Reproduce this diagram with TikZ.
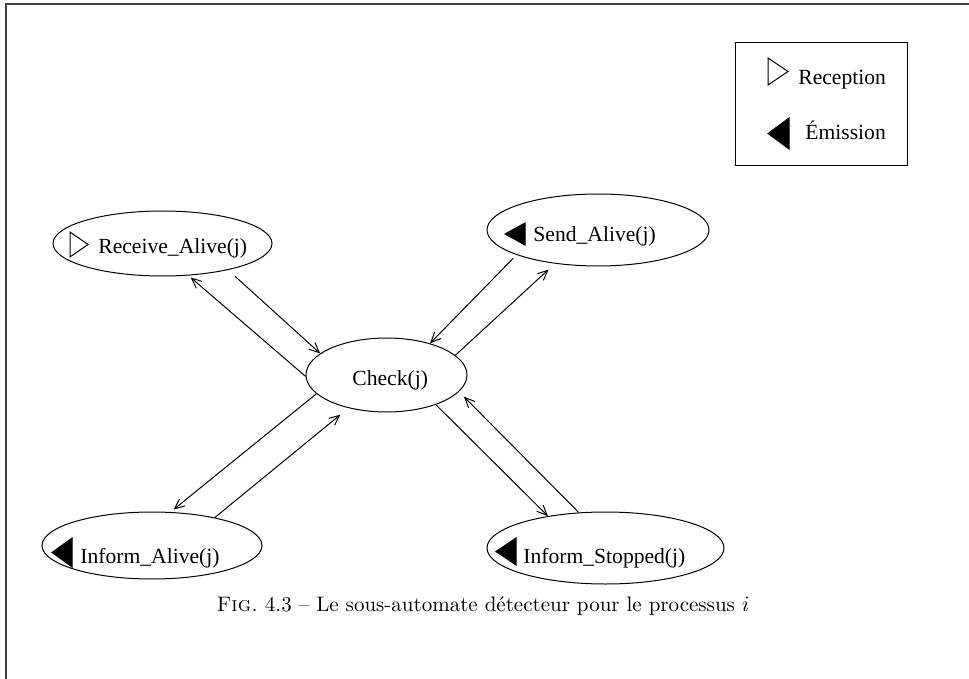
\documentclass[tikz,border=0pt]{standalone}
\usepackage{fontspec}
\newfontfamily\figfont{Liberation Serif}
\usetikzlibrary{arrows.meta,shapes.geometric}
\begin{document}
\begin{tikzpicture}[x=0.5pt,y=-0.5pt,
  state/.style={draw, ellipse, line width=0.5pt, inner sep=0pt},
  lbl/.style={anchor=base west, inner sep=0pt, font=\figfont\fontsize{10.8}{13}\selectfont},
  flow/.style={line width=0.5pt, -{Straight Barb[length=5pt,width=4.5pt]}},
  hollowtri/.style={line width=0.5pt, line join=miter},
  solidtri/.style={fill=black, draw=black, line width=0.5pt}
]
\useasboundingbox (0,0) rectangle (969,679);

% page frame
\draw[line width=1pt, black!75] (5.5,679) -- (5.5,4.5) -- (969,4.5);

% legend
\node[draw, line width=0.5pt, minimum width=86pt, minimum height=61.5pt] (legend) at (821,104.5) {};
\draw[hollowtri] (768,58) -- (768,85) -- (788,71.5) -- cycle;
\node[lbl] (lrec) at (798,85) {Reception};
\fill[solidtri] (768,133.5) -- (789,118) -- (789,149) -- cycle;
\node[lbl] (lemi) at (805,140) {Émission};

% states
\node[state, minimum width=109.5pt, minimum height=32.5pt] (rcv) at (162.5,243.5) {};
\node[state, minimum width=111pt, minimum height=36pt] (snd) at (598,230) {};
\node[state, minimum width=80.5pt, minimum height=37pt] (chk) at (386.5,375) {};
\node[state, minimum width=110pt, minimum height=33.5pt] (ia) at (152,545.5) {};
\node[state, minimum width=118.5pt, minimum height=36pt] (is) at (605.5,548) {};

% state labels and their event marks
\draw[hollowtri] (70,232) -- (70,257) -- (88,244.5) -- cycle;
\node[lbl] (rcvt) at (98,254) {Receive\_Alive(j)};
\fill[solidtri] (505,234) -- (525,223) -- (525,245) -- cycle;
\node[lbl] (sndt) at (533,242) {Send\_Alive(j)};
\node[lbl] (chkt) at (352,385) {Check(j)};
\fill[solidtri] (52,552.5) -- (72,538) -- (72,567) -- cycle;
\node[lbl] (iat) at (80,563) {Inform\_Alive(j)};
\fill[solidtri] (496,551.5) -- (516,538) -- (516,565) -- cycle;
\node[lbl] (ist) at (523,563) {Inform\_Stopped(j)};

% transitions
\draw[flow, shorten <=4.6pt] (rcv.-22.6) -- (chk.162);
\draw[flow, shorten >=1.5pt] (chk.181) -- (rcv.-51.3);
\draw[flow, shorten <=2.3pt] (snd.197) -- (chk.36.5);
\draw[flow, shorten >=4.3pt] (chk.16.7) -- (snd.-142);
\draw[flow, shorten >=2pt] (chk.195.6) -- (ia.61.4);
\draw[flow, shorten >=5.2pt] (ia.24.9) -- (chk.-139.8);
\draw[flow] (chk.-31.7) -- (is.151.7);
\draw[flow, shorten >=3.5pt] (is.127.4) -- (chk.-13.4);

% caption
\node[anchor=base, inner sep=0pt, font=\fontsize{10.5}{12}\selectfont] (caption) at (483,611)
  {\textsc{Fig.}\ 4.3 -- Le sous-automate détecteur pour le processus $i$};
\end{tikzpicture}
\end{document}
